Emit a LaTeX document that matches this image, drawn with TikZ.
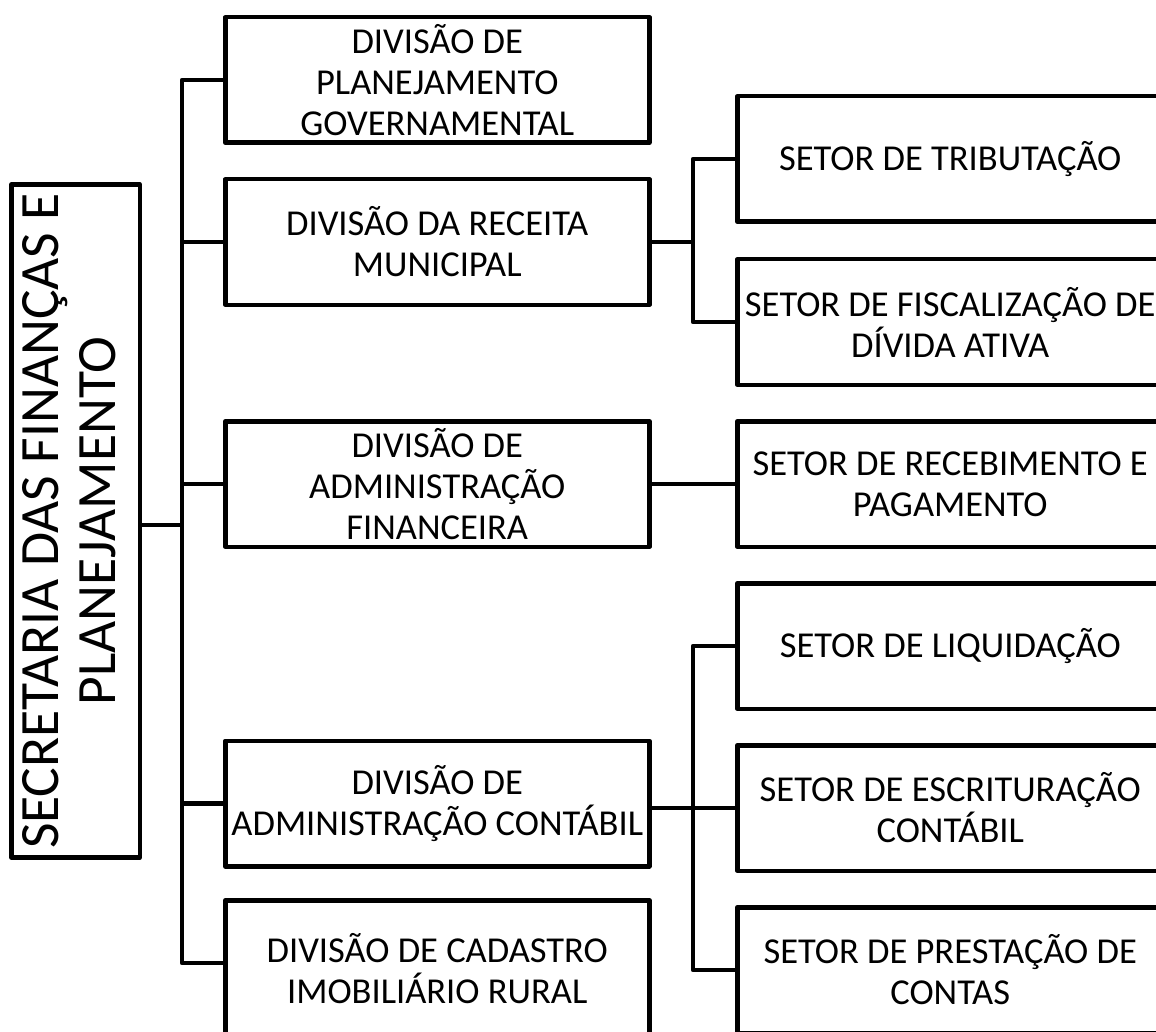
\documentclass[tikz,border=0pt]{standalone}
\usepackage{fontspec}
\setmainfont{Carlito}
\begin{document}
\begin{tikzpicture}[x=1pt,y=-1pt,
  lw/.style={line width=4.5pt},
  box/.style={draw, lw, inner sep=0pt, align=center, line join=round,
    font=\fontsize{36.5}{41}\selectfont},
  dbox/.style={box, minimum width=424pt, minimum height=125.5pt},
  sbox/.style={box, minimum width=426pt, minimum height=125.5pt},
  link/.style={lw, line join=round}]
\useasboundingbox (0,0) rectangle (1156,1032);
\clip (0,0) rectangle (1156,1032);
\fill[white] (0,0) rectangle (1156,1032);

\node[draw, lw, inner sep=0pt, line join=round, minimum width=128.5pt, minimum height=673pt] (root) at (75.5,521)
  {\fontsize{55.5}{57}\selectfont\rotatebox{90}{\begin{tabular}{@{}c@{}}SECRETARIA DAS FINANÇAS E\\PLANEJAMENTO\end{tabular}}};

\node[dbox] (d1) at (437.25,80) {DIVISÃO DE\\PLANEJAMENTO\\GOVERNAMENTAL};
\node[dbox] (d2) at (437.25,242) {DIVISÃO DA RECEITA\\MUNICIPAL};
\node[dbox] (d3) at (437.25,484) {DIVISÃO DE\\ADMINISTRAÇÃO\\FINANCEIRA};
\node[dbox] (d4) at (437.25,803.5) {DIVISÃO DE\\ADMINISTRAÇÃO CONTÁBIL};
\node[dbox, minimum height=137.5pt] (d5) at (437.25,969) {DIVISÃO DE CADASTRO\\IMOBILIÁRIO RURAL};

\node[sbox] (s1) at (950.25,159) {SETOR DE TRIBUTAÇÃO};
\node[sbox] (s2) at (950.25,322) {SETOR DE FISCALIZAÇÃO DE\\DÍVIDA ATIVA};
\node[sbox] (s3) at (950.25,484) {SETOR DE RECEBIMENTO E\\PAGAMENTO};
\node[sbox] (s4) at (950.25,646) {SETOR DE LIQUIDAÇÃO};
\node[sbox] (s5) at (950.25,808) {SETOR DE ESCRITURAÇÃO\\CONTÁBIL};
\node[sbox] (s6) at (950.25,970) {SETOR DE PRESTAÇÃO DE\\CONTAS};

% main trunk
\coordinate (ttop) at (182,80);
\coordinate (tbot) at (182,963);
\coordinate (rj) at (182,525);
\draw[link] (d1.west |- ttop) -- (ttop) -- (tbot) -- (tbot -| d5.west);
\draw[link] (rj -| root.east) -- (rj);
\draw[link] (d2.west) -- (d2.west -| ttop);
\draw[link] (d3.west) -- (d3.west -| ttop);
\draw[link] (d4.west) -- (d4.west -| ttop);

% receita branch
\coordinate (a1) at (693,159);
\coordinate (a2) at (693,322);
\draw[link] (s1.west) -- (a1) -- (a2) -- (s2.west);
\draw[link] (d2.east) -- (d2.east -| a1);

% financeira
\draw[link] (d3.east) -- (s3.west);

% contabil branch
\coordinate (b1) at (693,646);
\coordinate (b3) at (693,970);
\draw[link] (s4.west) -- (b1) -- (b3) -- (s6.west);
\draw[link] (s5.west) -- (s5.west -| d4.east);
\end{tikzpicture}
\end{document}
